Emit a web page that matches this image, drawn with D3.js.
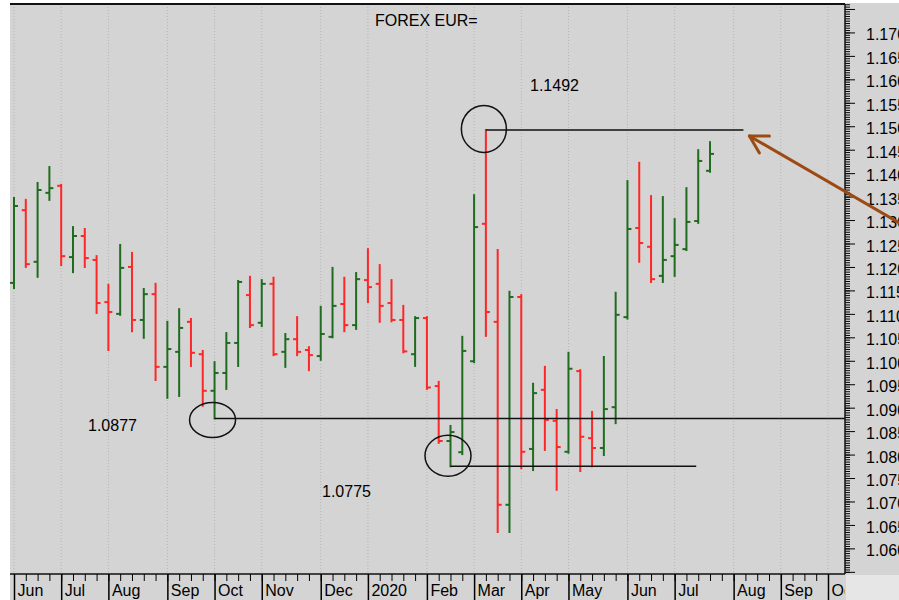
<!DOCTYPE html>
<html>
<head>
<meta charset="utf-8">
<script src="https://cdn.jsdelivr.net/npm/d3@7"></script>
<style>
  body { margin: 0; background: #fff; }
  svg { display: block; font-family: "Liberation Sans", Arial, sans-serif; }
</style>
</head>
<body>
<div id="chart"></div>
<script>
// Weekly bars (week ending Friday)
const weeks = [
  "2019-06-07","2019-06-14","2019-06-21","2019-06-28","2019-07-05","2019-07-12","2019-07-19","2019-07-26",
  "2019-08-02","2019-08-09","2019-08-16","2019-08-23","2019-08-30","2019-09-06","2019-09-13","2019-09-20",
  "2019-09-27","2019-10-04","2019-10-11","2019-10-18","2019-10-25","2019-11-01","2019-11-08","2019-11-15",
  "2019-11-22","2019-11-29","2019-12-06","2019-12-13","2019-12-20","2019-12-27","2020-01-03","2020-01-10",
  "2020-01-17","2020-01-24","2020-01-31","2020-02-07","2020-02-14","2020-02-21","2020-02-28","2020-03-06",
  "2020-03-13","2020-03-20","2020-03-27","2020-04-03","2020-04-10","2020-04-17","2020-04-24","2020-05-01",
  "2020-05-08","2020-05-15","2020-05-22","2020-05-29","2020-06-05","2020-06-12","2020-06-19","2020-06-26",
  "2020-07-03","2020-07-10","2020-07-17","2020-07-24"
];
const opens = [
  1.1166,1.1321,1.1211,1.1358,1.1373,1.1221,1.1266,1.1215,1.1125,1.1100,
  1.1200,1.1087,1.1142,1.0987,1.1019,1.1083,1.1014,1.0936,1.0974,1.1038,
  1.1140,1.1081,1.1164,1.1019,1.1046,1.1023,1.1010,1.1051,1.1121,1.1076,
  1.1172,1.1164,1.1123,1.1087,1.1014,1.1091,1.0946,1.0829,1.0805,1.0999,
  1.1292,1.1083,1.0693,1.1136,1.0812,1.0938,1.0872,1.0806,1.0978,1.0835,
  1.0814,1.0901,1.1093,1.1283,1.1243,1.1181,1.1223,1.1238,1.1298,1.1405
];
const highs = [
  1.1347,1.1343,1.1379,1.1413,1.1375,1.1285,1.1281,1.1223,1.1162,1.1247,
  1.1230,1.1153,1.1164,1.1083,1.1110,1.1089,1.1021,1.0997,1.1059,1.1170,
  1.1179,1.1172,1.1177,1.1057,1.1093,1.1029,1.1115,1.1198,1.1177,1.1187,
  1.1238,1.1204,1.1172,1.1117,1.1093,1.1093,1.0955,1.0861,1.1051,1.1353,
  1.1492,1.1236,1.1147,1.1140,1.0951,1.0987,1.0895,1.1017,1.0980,1.0891,
  1.1008,1.1145,1.1383,1.1422,1.1351,1.1349,1.1302,1.1368,1.1449,1.1466
];
const lows = [
  1.1155,1.1200,1.1179,1.1343,1.1204,1.1189,1.1200,1.1102,1.1023,1.1098,
  1.1063,1.1049,1.0959,1.0921,1.0925,1.0989,1.0904,1.0877,1.0940,1.0989,
  1.1072,1.1074,1.1012,1.0987,1.1012,1.0980,1.1002,1.1050,1.1063,1.1068,
  1.1125,1.1083,1.1084,1.1018,1.0989,1.0940,1.0825,1.0775,1.0801,1.0997,
  1.1053,1.0635,1.0635,1.0771,1.0767,1.0810,1.0725,1.0804,1.0765,1.0775,
  1.0799,1.0867,1.1090,1.1211,1.1168,1.1168,1.1181,1.1236,1.1294,1.1403
];
const closes = [
  1.1330,1.1206,1.1364,1.1368,1.1223,1.1266,1.1219,1.1123,1.1104,1.1198,
  1.1087,1.1142,1.0987,1.1025,1.1070,1.1017,1.0936,1.0974,1.1038,1.1168,
  1.1076,1.1164,1.1014,1.1046,1.1019,1.1012,1.1057,1.1117,1.1076,1.1174,
  1.1157,1.1117,1.1087,1.1020,1.1091,1.0943,1.0829,1.0848,1.1021,1.1285,
  1.1104,1.0693,1.1136,1.0806,1.0931,1.0874,1.0816,1.0983,1.0838,1.0814,
  1.0897,1.1098,1.1281,1.1251,1.1174,1.1215,1.1247,1.1296,1.1426,1.1441
];

// Month marks on the time axis (first weekly bar of each month)
const monthDates = [
  "2019-06-07","2019-07-05","2019-08-02","2019-09-06","2019-10-04","2019-11-01","2019-12-06","2020-01-03",
  "2020-02-07","2020-03-06","2020-04-03","2020-05-01","2020-06-05","2020-07-03","2020-08-07","2020-09-04","2020-10-02"
];
const monthLabels = ["Jun","Jul","Aug","Sep","Oct","Nov","Dec","2020","Feb","Mar","Apr","May","Jun","Jul","Aug","Sep","Oct"];

// Price axis ticks
const majorTicks = [1.055,1.060,1.065,1.070,1.075,1.080,1.085,1.090,1.095,1.100,1.105,1.110,1.115,
  1.120,1.125,1.130,1.135,1.140,1.145,1.150,1.155,1.160,1.165,1.170,1.175];
const labelTicks = [1.060,1.065,1.070,1.075,1.080,1.085,1.090,1.095,1.100,1.105,1.110,1.115,
  1.120,1.125,1.130,1.135,1.140,1.145,1.150,1.155,1.160,1.165,1.170];

// Annotated levels: high, first low, second low
const levelValues = [1.1492, 1.0877, 1.0775];
const levelLabels = ["1.1492", "1.0877", "1.0775"];
const levelStart = ["2020-03-13", "2019-10-04", "2020-02-21"];
const levelEnd = ["2020-08-14", null, "2020-07-17"];

const title = "FOREX EUR=";

let w = 899, h = 600;
let padL = 10, padT = 4, axisX = 845, axisY = 574;
const parse = d3.timeParse("%Y-%m-%d");

let svg = d3.select("#chart").append("svg").attr("width", w).attr("height", h);

// Background
svg.append("rect").attr("x", padL).attr("y", 3).attr("width", w - padL).attr("height", h - 3).attr("fill", "#d4d4d4");
svg.append("rect").attr("x", axisX + 1).attr("y", axisY + 1).attr("width", w - axisX).attr("height", h - axisY).attr("fill", "#e6e6e6");

// Scales
let xScale = d3.scaleTime().domain([parse("2019-06-07"), parse("2020-10-02")]).range([14, 828]);
let yScale = d3.scaleLinear().domain([1.05454, 1.17606]).range([axisY, padT]);

// Dotted month grid
svg.append("g").selectAll("line").data(monthDates).enter().append("line")
  .attr("x1", d => xScale(parse(d))).attr("x2", d => xScale(parse(d)))
  .attr("y1", padT).attr("y2", axisY)
  .attr("stroke", "#b4b4b4").attr("stroke-dasharray", "1,2");

// Bars: high-low line, open tick on the left, close tick on the right
let data = weeks.map((d, i) => ({date: parse(d), o: opens[i], h: highs[i], l: lows[i], c: closes[i]}));
let colour = d => d.c >= d.o ? "#1f6b1f" : "#ff2626";
let bars = svg.append("g").selectAll("g").data(data).enter().append("g")
  .attr("stroke", colour).attr("stroke-width", 2);
bars.append("line")
  .attr("x1", d => xScale(d.date)).attr("x2", d => xScale(d.date))
  .attr("y1", d => yScale(d.h) - 1).attr("y2", d => yScale(d.l) + 1);
bars.append("line")
  .attr("x1", d => xScale(d.date) - 4).attr("x2", d => xScale(d.date))
  .attr("y1", d => yScale(d.o)).attr("y2", d => yScale(d.o));
bars.append("line")
  .attr("x1", d => xScale(d.date)).attr("x2", d => xScale(d.date) + 4)
  .attr("y1", d => yScale(d.c)).attr("y2", d => yScale(d.c));

// Level lines and circles
let ann = svg.append("g").attr("stroke", "#111").attr("fill", "none").attr("stroke-width", 1.5);
levelValues.forEach((v, i) => {
  let x0 = xScale(parse(levelStart[i]));
  let x1 = levelEnd[i] ? xScale(parse(levelEnd[i])) - 2 : axisX;
  ann.append("line").attr("x1", x0).attr("x2", x1).attr("y1", yScale(v)).attr("y2", yScale(v));
});
ann.append("ellipse").attr("cx", xScale(parse(levelStart[0])) - 2).attr("cy", yScale(levelValues[0]) - 1).attr("rx", 22.5).attr("ry", 23.5);
ann.append("ellipse").attr("cx", xScale(parse(levelStart[1])) - 2).attr("cy", yScale(levelValues[1]) + 1.5).attr("rx", 23).attr("ry", 17.5);
ann.append("ellipse").attr("cx", xScale(parse(levelStart[2])) - 2.5).attr("cy", yScale(levelValues[2]) - 10.5).attr("rx", 23).attr("ry", 20.5);

// Level labels
svg.append("text").attr("x", 530).attr("y", 91).attr("font-size", 16).text(levelLabels[0]);
svg.append("text").attr("x", 88).attr("y", 431).attr("font-size", 16).text(levelLabels[1]);
svg.append("text").attr("x", 322).attr("y", 497).attr("font-size", 16).text(levelLabels[2]);

// Title
svg.append("text").attr("x", 375).attr("y", 26).attr("font-size", 16).text(title);

// Frame lines
svg.append("line").attr("x1", padL).attr("x2", axisX).attr("y1", padT).attr("y2", padT).attr("stroke", "#111").attr("stroke-width", 2);
svg.append("line").attr("x1", padL).attr("x2", axisX).attr("y1", axisY).attr("y2", axisY).attr("stroke", "#111").attr("stroke-width", 1.5);

// Time axis: weekly minor ticks, then month ticks with labels
let xAxisMinor = d3.axisBottom(xScale).tickValues(d3.timeFriday.range(parse("2019-06-07"), parse("2020-10-03"))).tickSize(7).tickFormat("");
svg.append("g").attr("transform", "translate(0," + axisY + ")").call(xAxisMinor).call(g => g.select(".domain").remove());

svg.append("clipPath").attr("id", "xclip").append("rect").attr("x", 0).attr("y", 0).attr("width", axisX).attr("height", h - axisY);
let xAxisMajor = d3.axisBottom(xScale).tickValues(monthDates.map(parse)).tickSize(26)
  .tickFormat((d, i) => monthLabels[i]);
svg.append("g").attr("transform", "translate(0," + axisY + ")")
  .append("g").attr("clip-path", "url(#xclip)").call(xAxisMajor)
  .call(g => g.select(".domain").remove())
  .call(g => g.selectAll("line").attr("stroke-width", 1.5))
  .call(g => g.selectAll("text").attr("text-anchor", "start").attr("x", 3).attr("y", 22).attr("dy", 0)
    .attr("font-size", 16).attr("font-family", "Liberation Sans, Arial, sans-serif").attr("fill", "#000"));

// Price axis on the right
let minorTicks = d3.range(0, 243).map(i => 1.0550 + i * 0.0005);
svg.append("g").attr("transform", "translate(" + axisX + ",0)")
  .call(d3.axisRight(yScale).tickValues(minorTicks).tickSize(5).tickFormat(""))
  .call(g => g.select(".domain").remove());
svg.append("g").attr("transform", "translate(" + axisX + ",0)")
  .call(d3.axisRight(yScale).tickValues(majorTicks).tickSize(10).tickFormat(""))
  .call(g => g.select(".domain").remove());
svg.append("g").selectAll("text").data(labelTicks).enter().append("text")
  .attr("x", 866).attr("y", d => yScale(d) + 8).attr("font-size", 16)
  .text(d => d3.format(".3f")(d));
svg.append("line").attr("x1", axisX).attr("x2", axisX).attr("y1", padT).attr("y2", axisY).attr("stroke", "#111").attr("stroke-width", 1.5);

// Brown arrow pointing back at the high
let arrow = svg.append("g").attr("stroke", "#9c4a12").attr("stroke-width", 3).attr("fill", "none").attr("stroke-linecap", "round");
let tipX = xScale(parse("2020-08-14")) + 4, tipY = yScale(levelValues[0]) + 6;
arrow.append("line").attr("x1", tipX).attr("y1", tipY).attr("x2", w + 2).attr("y2", tipY + 88);
arrow.append("line").attr("x1", tipX).attr("y1", tipY).attr("x2", tipX + 20).attr("y2", tipY);
arrow.append("line").attr("x1", tipX).attr("y1", tipY).attr("x2", tipX + 10).attr("y2", tipY + 17);
</script>
</body>
</html>
